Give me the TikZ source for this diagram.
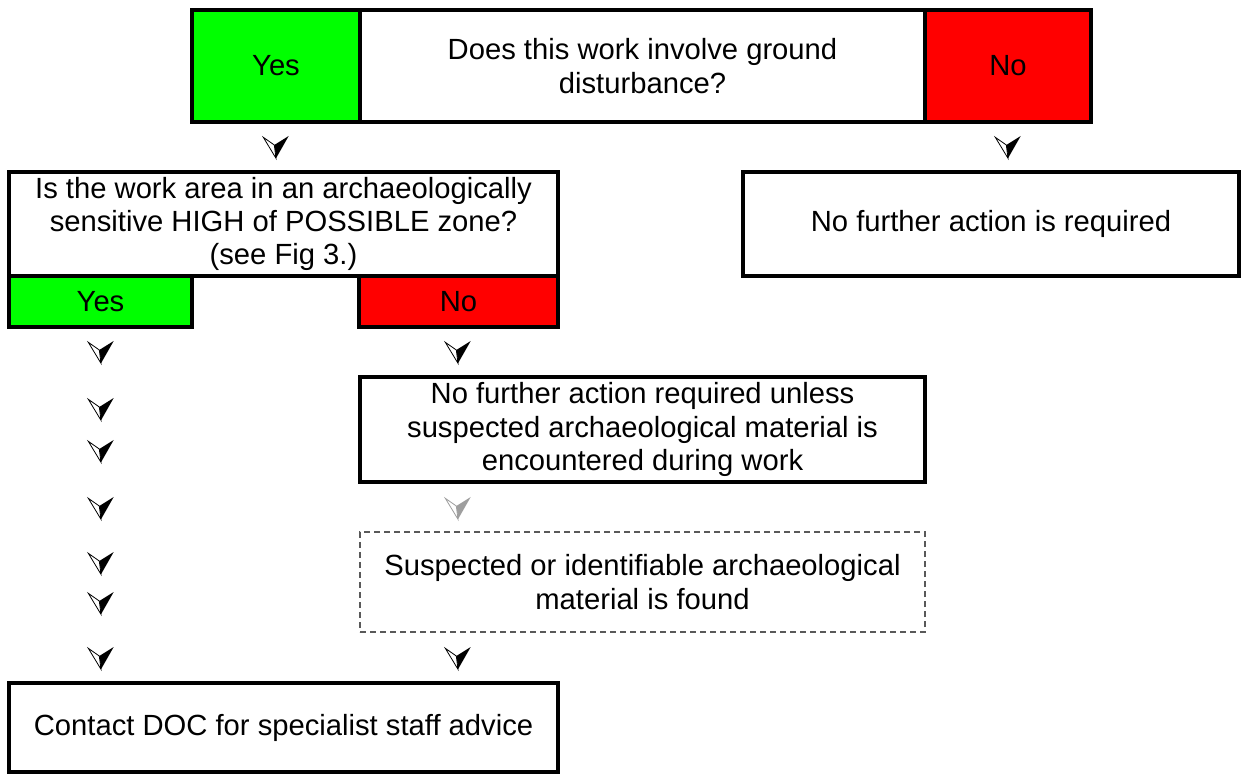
\documentclass[tikz,border=0pt]{standalone}
\usepackage{fontspec}
\setmainfont{Liberation Sans}
\definecolor{yesgreen}{rgb}{0,1,0}
\definecolor{nored}{rgb}{1,0,0}
\definecolor{softgrey}{rgb}{0.62,0.62,0.62}
\definecolor{dashgrey}{rgb}{0.35,0.35,0.35}
\tikzset{
  panel/.style={draw=black, line width=1.6pt, fill=white, align=center,
    inner sep=0pt, outer sep=0pt, font=\fontsize{14.6pt}{16.6pt}\selectfont},
  dotpanel/.style={panel, draw=dashgrey, line width=0.6pt, densely dashed},
  pics/vee/.style={code={
    \fill[#1] (-1.7,-2)--(12.7,-11)--(0,11.3)--cycle;
    \filldraw[draw=#1, fill=white, line width=0.4pt] (-12.7,-9.7)--(-1.7,-2)--(0,11.3)--cycle;
  }},
  pics/vee/.default=black
}
\begin{document}
\begin{tikzpicture}[x=0.5pt, y=-0.5pt]
\useasboundingbox (0,0) rectangle (1241,774);
% top question
\node[panel, fill=yesgreen, minimum width=84pt, minimum height=56pt] (yesTop) at (276,66) {Yes};
\node[panel, minimum width=282.5pt, minimum height=56pt] (askGround) at (642.5,66) {Does this work involve ground\\disturbance?};
\node[panel, fill=nored, minimum width=83pt, minimum height=56pt] (noTop) at (1008,66) {No};
% second level
\node[panel, minimum width=274.5pt, minimum height=52pt] (askZone) at (283.5,224)
  {Is the work area in an archaeologically\\sensitive HIGH of POSSIBLE zone?\\(see Fig 3.)};
\node[panel, fill=yesgreen, minimum width=91.5pt, minimum height=25.5pt] (yesZone) at (100.5,301.5) {Yes};
\node[panel, fill=nored, minimum width=99.5pt, minimum height=25.5pt] (noZone) at (458.5,301.5) {No};
\node[panel, minimum width=248pt, minimum height=52pt] (noAction) at (991,224) {No further action is required};
% lower boxes
\node[panel, minimum width=282.5pt, minimum height=52.5pt] (noUnless) at (642.5,429.5)
  {No further action required unless\\suspected archaeological material is\\encountered during work};
\node[dotpanel, minimum width=282.5pt, minimum height=50pt] (foundMat) at (642.5,582)
  {Suspected or identifiable archaeological\\material is found};
\node[panel, minimum width=274.5pt, minimum height=44.5pt] (contactDoc) at (283.5,727.5)
  {Contact DOC for specialist staff advice};
% arrow glyphs
\pic at (276,147) {vee};
\pic at (1008,147) {vee};
\foreach \yy in {352,409,451,508,563,603,658}
  \pic at (101,\yy) {vee};
\pic at (458,352) {vee};
\pic at (458,508) {vee=softgrey};
\pic at (458,658) {vee};
\end{tikzpicture}
\end{document}
